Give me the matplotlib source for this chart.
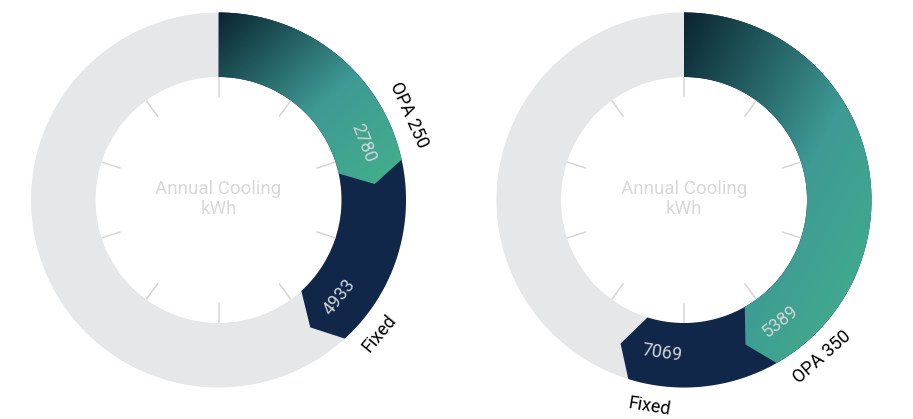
import numpy as np
import matplotlib.pyplot as plt
from matplotlib.patches import Polygon, Wedge
from matplotlib.colors import LinearSegmentedColormap

plt.rcParams['font.family'] = ['Roboto', 'DejaVu Sans']

# data
opa_labels = ['OPA 250', 'OPA 350']
opa_values = [2780, 5389]
fixed_values = [4933, 7069]
fixed_label = 'Fixed'
center_text = 'Annual Cooling\nkWh'
gauge_max = 12900   # value of a full turn
n_ticks = 10

# geometry (pixels)
R_OUT, R_IN = 187.5, 123
R_TIP = 157
TIP_LEN = 18

grey = '#e6e7e9'
navy = '#10274a'
grad = LinearSegmentedColormap.from_list(
    'opa', [(0, '#0a2430'), (0.55, '#3e9a95'), (1, '#43b08a')])


def pt(theta, r):
    t = np.radians(theta)
    return r * np.sin(t), r * np.cos(t)


def segment(end_deg):
    th = np.linspace(0, end_deg, 300)
    outer = [pt(t, R_OUT) for t in th]
    tip = [pt(end_deg + np.degrees(TIP_LEN / R_TIP), R_TIP)]
    inner = [pt(t, R_IN) for t in th[::-1]]
    return np.array(outer + tip + inner)


def tangent_rot(theta):
    theta = theta % 360
    if 90 < theta < 270:
        return 180 - theta
    return -theta


fig = plt.figure(figsize=(9.13, 4.19), dpi=100)
renderer = fig.canvas.get_renderer()

axes_spec = [([0, 0, 456.5 / 913, 1], (-218.5, 238)),
             ([456.5 / 913, 0, 456.5 / 913, 1], (-227.5, 229))]

for i, (rect, xl) in enumerate(axes_spec):
    ax = fig.add_axes(rect)
    ax.set_axis_off()

    # background ring
    ax.add_patch(Wedge((0, 0), R_OUT, 0, 360, width=R_OUT - R_IN,
                       facecolor=grey, edgecolor='none'))

    # tick marks inside the ring
    for k in range(n_ticks):
        a = k * 360 / n_ticks
        x1, y1 = pt(a, R_IN - 20)
        x2, y2 = pt(a, R_IN)
        ax.plot([x1, x2], [y1, y2], color='#d6d6d6', lw=1.1,
                solid_capstyle='butt')

    fixed_end = fixed_values[i] / gauge_max * 360
    opa_end = opa_values[i] / gauge_max * 360

    ax.add_patch(Polygon(segment(fixed_end), closed=True,
                         facecolor=navy, edgecolor='none'))

    verts = segment(opa_end)
    poly = Polygon(verts, closed=True, facecolor='none', edgecolor='none')
    ax.add_patch(poly)
    xmin, ymin = verts.min(axis=0)
    xmax, ymax = verts.max(axis=0)
    X, Y = np.meshgrid(np.linspace(0, 1, 400), np.linspace(0, 1, 400))
    img = ax.imshow((X + Y) / 2, cmap=grad, vmin=0, vmax=1,
                    extent=(xmin, xmax, ymin, ymax), origin='upper',
                    interpolation='bilinear', zorder=2)
    img.set_clip_path(poly)

    # values inside the ring
    for val, end in [(opa_values[i], opa_end), (fixed_values[i], fixed_end)]:
        c = end - 9
        x, y = pt(c, 155)
        ax.text(x, y, str(val), fontsize=13, color='#cfd3d6',
                ha='center', va='center', rotation=tangent_rot(c),
                rotation_mode='anchor', zorder=5)

    # labels outside the ring
    for lab, end in [(opa_labels[i], opa_end), (fixed_label, fixed_end)]:
        t = ax.text(0, 0, lab, fontsize=13, color='black',
                    ha='center', va='center', rotation_mode='anchor',
                    zorder=5, clip_on=False)
        w = t.get_window_extent(renderer).width
        c = end - 2.0 - np.degrees(w / 2 / 209)
        t.set_position(pt(c, 209))
        t.set_rotation(tangent_rot(c))

    ax.text(0, 1, center_text, fontsize=13.5, color='#d9d9d9',
            ha='center', va='center', linespacing=1.1)

    ax.set_xlim(*xl)
    ax.set_ylim(-219, 200)
    ax.set_aspect('auto')

fig.savefig('out.png', dpi=100)
